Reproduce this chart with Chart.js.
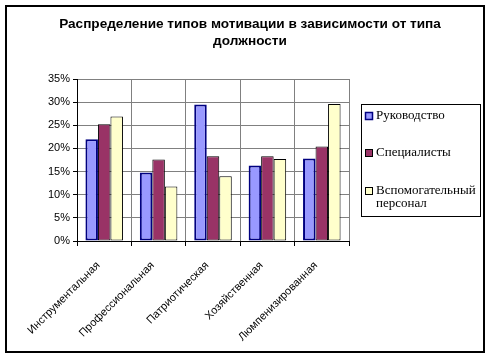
<!DOCTYPE html>
<html>
<head>
<meta charset="utf-8">
<script src="https://cdn.jsdelivr.net/npm/chart.js@4/dist/chart.umd.min.js"></script>
<style>
html,body{margin:0;padding:0;background:#fff;}
canvas{display:block;}
</style>
</head>
<body>
<canvas id="c" width="492" height="358"></canvas>
<script>
const titleLines = ["Распределение типов мотивации в зависимости от типа", "должности"];
const categories = ["Инструментальная", "Профессиональная", "Патриотическая", "Хозяйственная", "Люмпенизированная"];
const seriesNames = ["Руководство", "Специалисты", "Вспомогательный персонал"];
const rukovodstvo = [22.0, 14.8, 29.5, 16.3, 17.8];
const specialisty = [25.2, 17.6, 18.3, 18.3, 20.4];
const vspomogatelny = [26.9, 11.8, 14.0, 17.7, 29.6];
const yTicks = [0, 5, 10, 15, 20, 25, 30, 35];

const frameTitleLegend = {
  id: 'frameTitleLegend',
  afterDraw(chart) {
    const ctx = chart.ctx;
    ctx.save();
    // outer frame
    ctx.strokeStyle = '#000';
    ctx.lineWidth = 2;
    ctx.strokeRect(6, 6, 478, 346);
    // title
    ctx.fillStyle = '#000';
    ctx.font = 'bold 13.6px "Liberation Sans", Arial, sans-serif';
    ctx.textAlign = 'center';
    ctx.textBaseline = 'middle';
    ctx.fillText(titleLines[0], 250, 24);
    ctx.fillText(titleLines[1], 250, 41);
    // legend box
    ctx.lineWidth = 1;
    ctx.strokeRect(361.5, 104.5, 119, 112);
    const ds = chart.data.datasets;
    const rows = [[116], [153], [191, 204]];
    ctx.font = '13px "Liberation Serif", "Times New Roman", serif';
    ctx.textAlign = 'left';
    ds.forEach((d, i) => {
      const y = rows[i][0];
      ctx.fillStyle = d.backgroundColor;
      ctx.fillRect(365, y - 4, 8, 8);
      ctx.strokeStyle = d.borderColor;
      ctx.lineWidth = d.borderWidth > 1 ? 1.5 : 1;
      ctx.strokeRect(365.5, y - 3.5, 7, 7);
      ctx.fillStyle = '#000';
      const words = d.label.split(' ');
      if (rows[i].length > 1) {
        ctx.fillText(words[0], 376, rows[i][0]);
        ctx.fillText(words.slice(1).join(' '), 376, rows[i][1]);
      } else {
        ctx.fillText(d.label, 376, y);
      }
    });
    ctx.restore();
  }
};

new Chart(document.getElementById('c'), {
  type: 'bar',
  data: {
    labels: categories,
    datasets: [
      { label: seriesNames[0], data: rukovodstvo, backgroundColor: '#9999FF', borderColor: '#000080', borderWidth: 2, borderSkipped: false },
      { label: seriesNames[1], data: specialisty, backgroundColor: '#993366', borderColor: '#000000', borderWidth: 1, borderSkipped: false },
      { label: seriesNames[2], data: vspomogatelny, backgroundColor: '#FFFFCC', borderColor: '#000000', borderWidth: 1, borderSkipped: false }
    ]
  },
  options: {
    responsive: false,
    animation: false,
    devicePixelRatio: 1,
    layout: { padding: { left: 5, top: 79, right: 143, bottom: 5 } },
    datasets: { bar: { categoryPercentage: 0.69, barPercentage: 1.0 } },
    plugins: { legend: { display: false }, title: { display: false }, tooltip: { enabled: false } },
    scales: {
      x: {
        afterFit(s) { s.height = 112; },
        grid: { offset: true, color: '#808080', tickColor: '#000', tickLength: 5, lineWidth: 1 },
        border: { color: '#000', width: 1 },
        ticks: {
          color: '#000', minRotation: 45, maxRotation: 45, autoSkip: false, padding: 13, labelOffset: -6,
          font: { family: '"Liberation Sans", Arial, sans-serif', size: 11 }
        }
      },
      y: {
        min: 0, max: 35,
        afterFit(s) { s.width = 72; },
        afterBuildTicks(s) { s.ticks = yTicks.map(v => ({ value: v })); },
        grid: { color: '#808080', tickColor: '#000', tickLength: 4 },
        border: { color: '#000', width: 1 },
        ticks: {
          color: '#000', padding: 3,
          font: { family: '"Liberation Sans", Arial, sans-serif', size: 11 },
          callback: v => v + '%'
        }
      }
    }
  },
  plugins: [frameTitleLegend]
});
</script>
</body>
</html>
